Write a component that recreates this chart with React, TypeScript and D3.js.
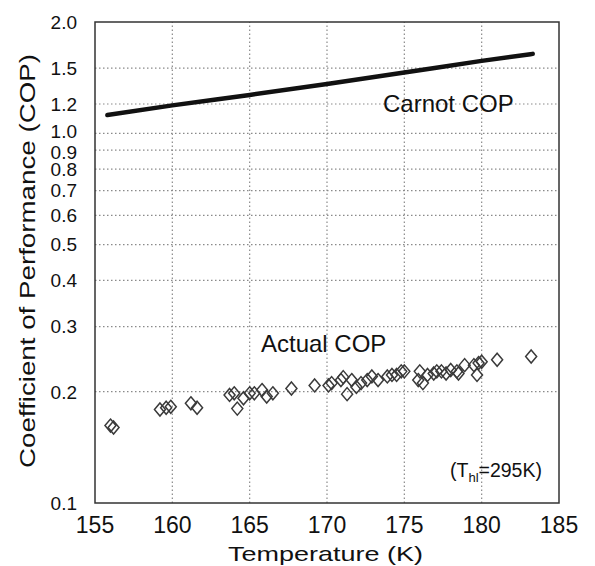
import React from 'react';
import * as d3 from 'd3';

// Carnot COP curve
const carnotT = [155.8, 160, 165, 170, 175, 180, 183.3];
const carnotCop = [1.12, 1.19, 1.27, 1.36, 1.46, 1.57, 1.64];

// Measured COP points
const actualT = [
  156.0, 156.2, 159.2, 159.6, 159.9, 161.2, 161.6, 163.7, 164.0, 164.2,
  164.6, 165.0, 165.3, 165.8, 166.1, 166.5, 167.7, 169.2, 170.1, 170.3,
  170.9, 171.05, 171.3, 171.6, 171.9, 172.2, 172.6, 172.9, 173.3, 173.9,
  174.2, 174.5, 174.8, 175.0, 175.9, 176.0, 176.2, 176.5, 176.9, 177.1,
  177.4, 177.7, 178.0, 178.4, 178.5, 178.9, 179.5, 179.8, 180.0, 179.7,
  181.0, 183.2,
];
const actualCop = [
  0.162, 0.160, 0.179, 0.181, 0.182, 0.186, 0.181, 0.196, 0.198, 0.180,
  0.192, 0.198, 0.198, 0.202, 0.194, 0.198, 0.204, 0.208, 0.208, 0.211,
  0.215, 0.219, 0.197, 0.215, 0.206, 0.211, 0.215, 0.220, 0.215, 0.220,
  0.222, 0.222, 0.227, 0.227, 0.215, 0.227, 0.211, 0.222, 0.224, 0.227,
  0.227, 0.224, 0.229, 0.227, 0.224, 0.236, 0.236, 0.239, 0.241, 0.222,
  0.244, 0.249,
];

const xTicks = [155, 160, 165, 170, 175, 180, 185];
const yTicks = [0.1, 0.2, 0.3, 0.4, 0.5, 0.6, 0.7, 0.8, 0.9, 1.0, 1.2, 1.5, 2.0];

const App = () => {
  const width = 595;
  const height = 566;
  const margin = { top: 22, right: 36, bottom: 63, left: 95 };

  const x = d3.scaleLinear()
    .domain([155, 185])
    .range([margin.left, width - margin.right]);
  const y = d3.scaleLog()
    .domain([0.1, 2.0])
    .range([height - margin.bottom, margin.top]);

  const line = d3.line<number>()
    .x((d, i) => x(carnotT[i]))
    .y(d => y(d))
    .curve(d3.curveMonotoneX);

  const font = 'Arial, "Liberation Sans", sans-serif';
  const gridColor = '#8a8a8a';

  // diamond half sizes
  const dw = 5.5;
  const dh = 6.5;

  // the 1.0 and 0.9 labels sit very close, nudge them apart a bit
  const labelNudge = (t: number) => (t === 1.0 ? -2.5 : t === 0.9 ? 1.5 : 0);

  return (
    <svg
      width={width}
      height={height}
      style={{ position: 'absolute', left: 0, top: 0, background: '#fff' }}
      fontFamily={font}
    >
      <rect width={width} height={height} fill="#fff" />

      {/* dotted grid */}
      {xTicks.slice(1, -1).map(t => (
        <line
          key={'gx' + t}
          x1={x(t)} x2={x(t)}
          y1={y(0.1)} y2={y(2.0)}
          stroke={gridColor}
          strokeWidth={1.2}
          strokeDasharray="1.5,2.5"
        />
      ))}
      {yTicks.slice(1, -1).map(t => (
        <line
          key={'gy' + t}
          x1={x(155)} x2={x(185)}
          y1={y(t)} y2={y(t)}
          stroke={gridColor}
          strokeWidth={1.2}
          strokeDasharray="1.5,2.5"
        />
      ))}

      {/* frame */}
      <rect
        x={x(155)} y={y(2.0)}
        width={x(185) - x(155)} height={y(0.1) - y(2.0)}
        fill="none" stroke="#333" strokeWidth={1.5}
      />

      {/* Carnot line */}
      <path
        d={line(carnotCop) || ''}
        fill="none"
        stroke="#111"
        strokeWidth={4.5}
        strokeLinecap="round"
      />

      {/* actual points */}
      {actualT.map((t, i) => {
        const cx = x(t);
        const cy = y(actualCop[i]);
        return (
          <path
            key={'p' + i}
            d={`M${cx},${cy - dh}L${cx + dw},${cy}L${cx},${cy + dh}L${cx - dw},${cy}Z`}
            fill="none"
            stroke="#3a3a3a"
            strokeWidth={1.5}
          />
        );
      })}

      {/* y tick labels */}
      {yTicks.map(t => (
        <text
          key={'yl' + t}
          x={x(155) - 18}
          y={y(t) + labelNudge(t)}
          dy="0.36em"
          textAnchor="end"
          fontSize={19}
          fill="#111"
        >
          {t.toFixed(1)}
        </text>
      ))}

      {/* x tick labels */}
      {xTicks.map(t => (
        <text
          key={'xl' + t}
          x={x(t)}
          y={533}
          textAnchor="middle"
          fontSize={23}
          fill="#111"
        >
          {t}
        </text>
      ))}

      {/* axis titles */}
      <text
        x={228} y={561}
        fontSize={21}
        fill="#111"
        textLength={195}
        lengthAdjust="spacingAndGlyphs"
      >
        Temperature (K)
      </text>
      <text
        transform={`translate(35,${468}) rotate(-90)`}
        fontSize={22}
        fill="#111"
        textLength={414}
        lengthAdjust="spacingAndGlyphs"
      >
        Coefficient of Performance (COP)
      </text>

      {/* annotations */}
      <text x={383} y={112} fontSize={24} fill="#111">Carnot COP</text>
      <text x={261} y={352} fontSize={24} fill="#111">Actual COP</text>
      <text x={450} y={477} fontSize={19.5} fill="#111">
        (T<tspan fontSize={13} dy={5}>hl</tspan><tspan dy={-5}>=295K)</tspan>
      </text>
    </svg>
  );
};

export default App;
